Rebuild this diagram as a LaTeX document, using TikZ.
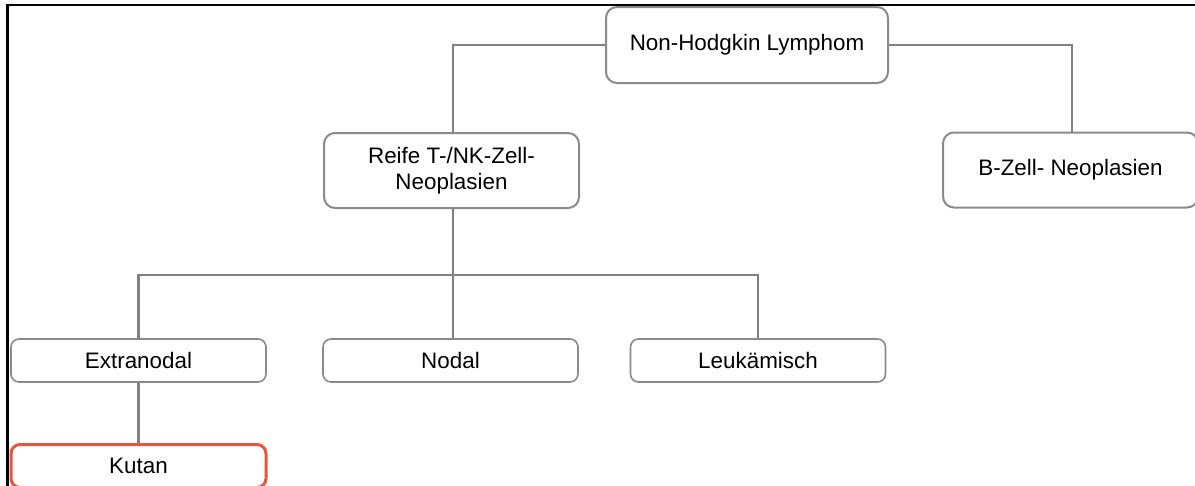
\documentclass[tikz,border=0pt]{standalone}
\usepackage{fontspec}
\setmainfont{Liberation Sans}
\definecolor{boxgray}{HTML}{8A8A8A}
\definecolor{linegray}{HTML}{808080}
\definecolor{kutanred}{HTML}{E2583A}
\begin{document}
\begin{tikzpicture}[x=1pt,y=-1pt,
  every node/.style={font=\fontsize{22.4}{26}\selectfont, text=black},
  bigbox/.style={draw=boxgray, line width=2pt, rounded corners=11pt, fill=white,
    minimum width=255pt, minimum height=75pt, align=center, inner sep=0pt},
  smallbox/.style={draw=boxgray, line width=1.6pt, rounded corners=8pt, fill=white,
    minimum width=255pt, minimum height=43pt, align=center, inner sep=0pt},
  redbox/.style={draw=kutanred, line width=3pt, rounded corners=9pt, fill=white,
    minimum width=255pt, minimum height=43pt, align=center, inner sep=0pt},
  conn/.style={draw=linegray, line width=2.6pt}]
\useasboundingbox (0,0) rectangle (1195,485);
\clip (0,0) rectangle (1195,485);
\fill[white] (0,0) rectangle (1195,485);
% frame (top and left only visible)
\draw[black, line width=2.2pt] (7.5,490) -- (7.5,5) -- (1200,5);

\node[bigbox, minimum width=282pt, minimum height=76pt] (nh) at (747,45) {Non-Hodgkin Lymphom};
\node[bigbox] (reife) at (451.5,170.5) {Reife T-/NK-Zell-\\Neoplasien};
\node[bigbox] (bz) at (1070.5,170) {B-Zell- Neoplasien};
\node[smallbox] (extra) at (138.5,360.5) {Extranodal};
\node[smallbox] (nodal) at (450.5,360.5) {Nodal};
\node[smallbox] (leuk) at (758,360.5) {Leukämisch};
\node[redbox] (kutan) at (138.5,466) {Kutan};

\coordinate (j) at (453,275);
\draw[conn] (nh.west) -| (reife.north -| j);
\draw[conn] (nh.east) -| (bz.north -| 1072,0);
\draw[conn] (reife.south -| j) -- (j);
\draw[conn] (j) -| (extra.north);
\draw[conn] (j) -| (leuk.north);
\draw[conn] (j) -- (nodal.north -| j);
\draw[conn] (extra.south) -- (kutan.north);
\end{tikzpicture}
\end{document}
